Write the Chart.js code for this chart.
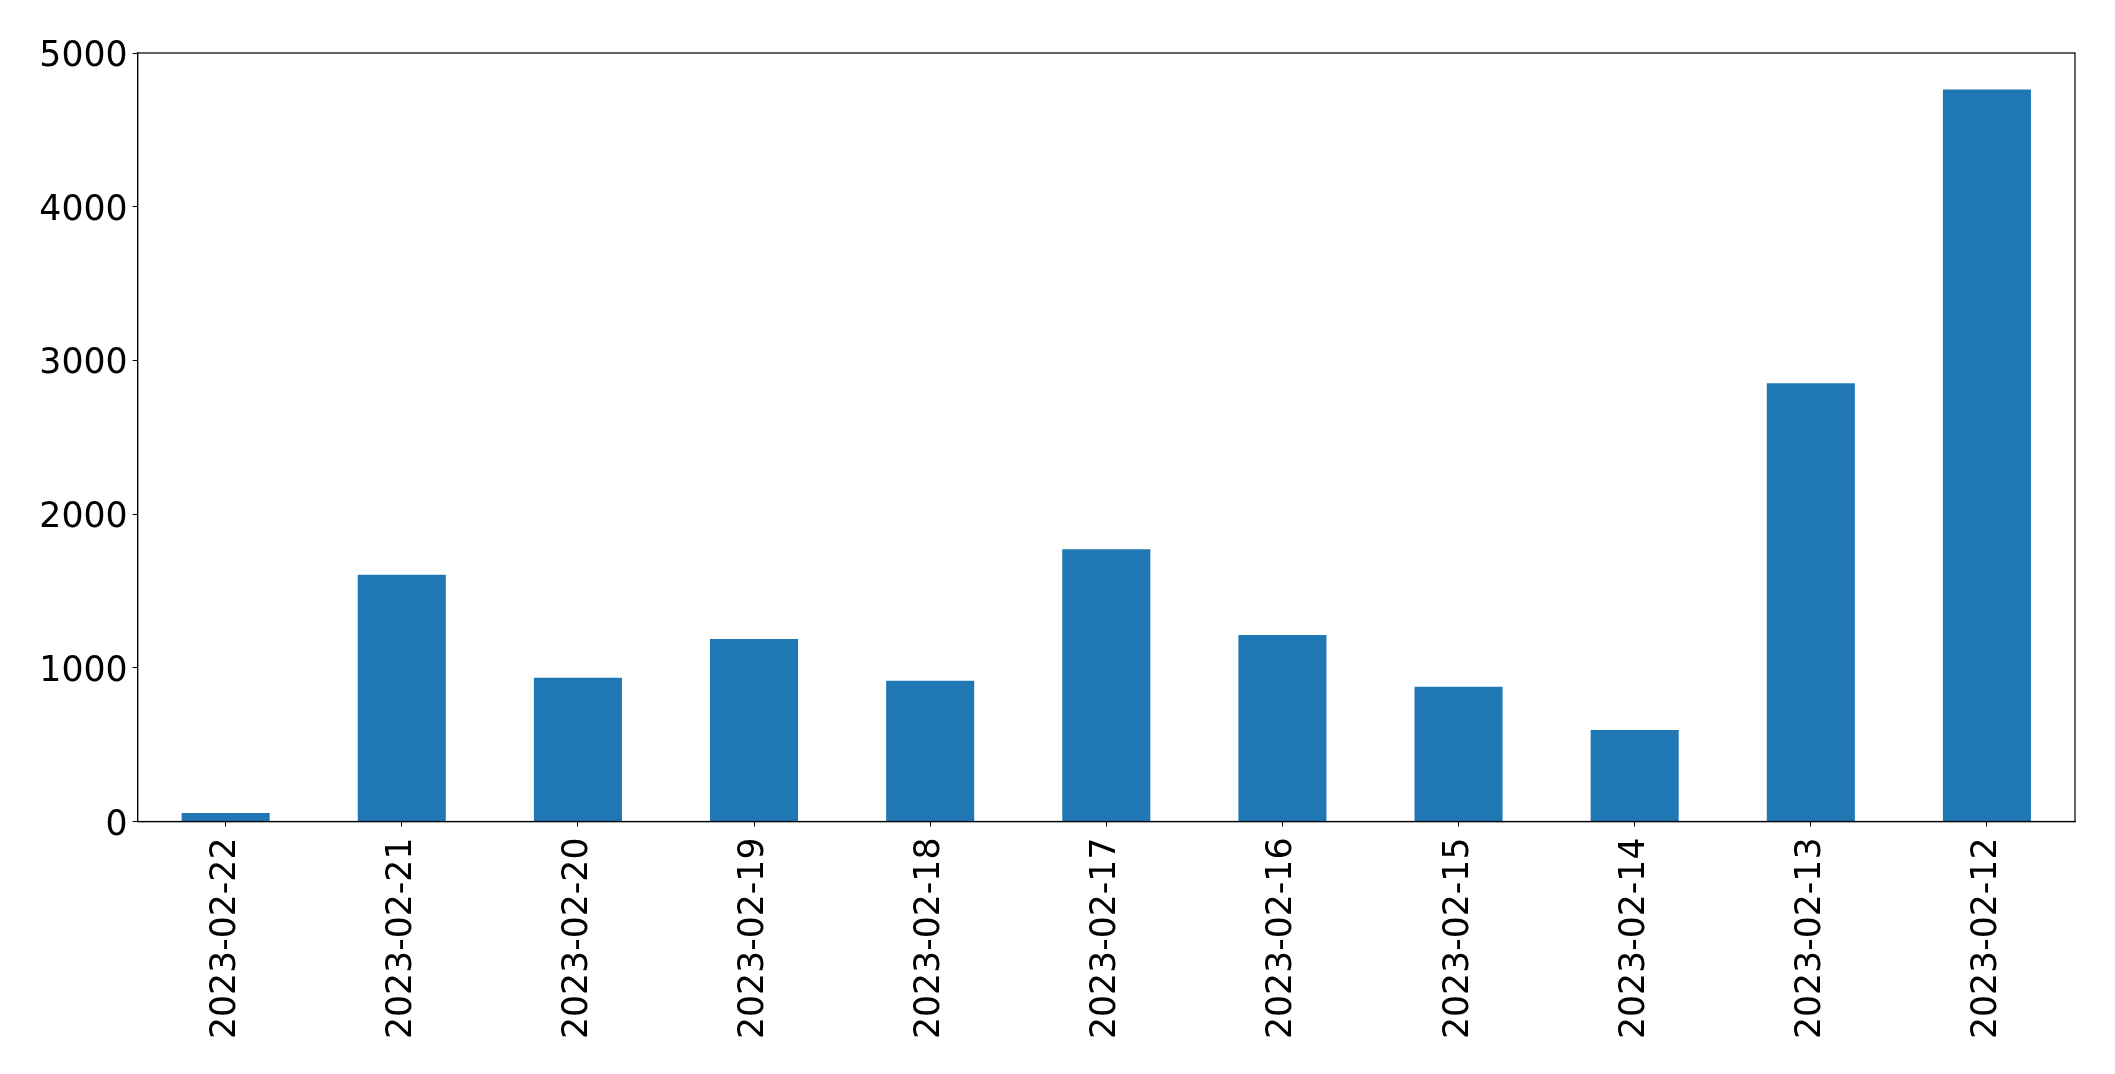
<!DOCTYPE html>
<html>
<head>
<meta charset="utf-8">
<script src="https://cdn.jsdelivr.net/npm/chart.js@4/dist/chart.umd.min.js"></script>
<style>
html,body{margin:0;padding:0;background:#fff;}
#c{display:block;}
</style>
</head>
<body>
<canvas id="c" width="2115" height="1074"></canvas>
<script>
const categories = ["2023-02-22","2023-02-21","2023-02-20","2023-02-19","2023-02-18","2023-02-17","2023-02-16","2023-02-15","2023-02-14","2023-02-13","2023-02-12"];
const values = [55, 1605, 935, 1188, 915, 1772, 1214, 876, 595, 2851, 4763];
const yTicks = [0, 1000, 2000, 3000, 4000, 5000];

const frame = {
  id: 'frame',
  afterDraw(chart) {
    const a = chart.chartArea, ctx = chart.ctx;
    ctx.save();
    ctx.strokeStyle = '#000';
    ctx.lineWidth = 1.2;
    ctx.strokeRect(a.left, a.top, a.right - a.left, a.bottom - a.top);
    ctx.restore();
  }
};

const font = { family: 'DejaVu Sans', size: 34.7 };

new Chart(document.getElementById('c'), {
  type: 'bar',
  data: {
    labels: categories,
    datasets: [{
      data: values,
      backgroundColor: '#1f77b4',
      borderWidth: 0,
      barPercentage: 0.5,
      categoryPercentage: 1.0
    }]
  },
  options: {
    responsive: false,
    animation: false,
    devicePixelRatio: 1,
    layout: { padding: { left: 0, right: 40, top: 53, bottom: 0 } },
    plugins: { legend: { display: false }, tooltip: { enabled: false } },
    scales: {
      x: {
        offset: true,
        grid: { display: true, drawOnChartArea: false, drawTicks: true, tickLength: 5, color: '#000', offset: false },
        border: { display: true, color: '#000', width: 1.2 },
        ticks: { color: '#000', font: font, maxRotation: 90, minRotation: 90, padding: 11, autoSkip: false },
        afterFit(scale) { scale.height = 252.5; }
      },
      y: {
        min: 0, max: 5000,
        afterBuildTicks(scale) { scale.ticks = yTicks.map(v => ({ value: v })); },
        grid: { display: true, drawOnChartArea: false, drawTicks: true, tickLength: 5, color: '#000' },
        border: { display: true, color: '#000', width: 1.2 },
        ticks: { color: '#000', font: font, padding: 5, labelOffset: 4, callback: v => String(v) },
        afterFit(scale) { scale.width = 137.6; }
      }
    }
  },
  plugins: [frame]
});
</script>
</body>
</html>
